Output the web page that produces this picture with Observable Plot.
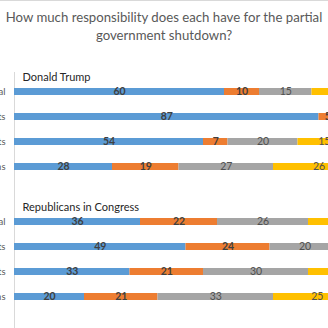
<!DOCTYPE html>
<html>
<head>
<meta charset="utf-8">
<script src="https://cdn.jsdelivr.net/npm/d3@7"></script>
<script src="https://cdn.jsdelivr.net/npm/@observablehq/plot@0.6"></script>
<style>
  html, body { margin: 0; padding: 0; width: 328px; height: 328px; overflow: hidden; background: #fff; }
  #topline { position: absolute; left: 0; top: 0; width: 328px; height: 0; border-top: 1px solid #d9d9d9; }
  #title { position: absolute; left: 0; top: 8px; width: 328px; text-align: center;
           font-family: Lato, sans-serif; font-size: 13.2px; line-height: 18px; color: #595959; }
  #chart { position: absolute; left: 0; top: 45px; }
</style>
</head>
<body>
<div id="topline"></div>
<div id="title">How much responsibility does each have for the partial<br>government shutdown?</div>
<div id="chart"></div>
<script>
const panels = ["Donald Trump", "Republicans in Congress"];
const rowLabels = ["Total", "Democrats", "Independents", "Republicans"];
const responses = ["A lot", "Some", "Not too much", "None at all"];
const colors = ["#5B9BD5", "#ED7D31", "#A5A5A5", "#FFC000"];
const boldResponses = ["A lot", "Some"];
const trumpValues = [[60, 10, 15, 14], [87, 5, 4, 3], [54, 7, 20, 15], [28, 19, 27, 26]];
const repValues = [[36, 22, 26, 15], [49, 24, 20, 6], [33, 21, 30, 14], [20, 21, 33, 25]];

const data = [];
[trumpValues, repValues].forEach((rows, pi) =>
  rows.forEach((vals, ri) =>
    vals.forEach((v, si) =>
      data.push({panel: panels[pi], group: rowLabels[ri], response: responses[si], value: v}))));

const isBold = d => boldResponses.includes(d.response);

const chart = Plot.plot({
  width: 328,
  height: 283,
  marginTop: 31,
  marginBottom: 17,
  marginLeft: 14,
  marginRight: 0,
  x: {domain: [0, 100], range: [14, 364], axis: null},
  y: {domain: rowLabels, paddingInner: 0, paddingOuter: 0, tickSize: 0, tickPadding: 9, label: null},
  fy: {domain: panels, paddingInner: 0.206, paddingOuter: 0, axis: null, label: null},
  color: {domain: responses, range: colors},
  style: {fontFamily: "Lato, sans-serif", fontSize: "9.5px", color: "#595959", background: "transparent"},
  marks: [
    Plot.ruleX([0], {stroke: "#d9d9d9", insetTop: -5, insetBottom: -27}),
    Plot.barX(data, Plot.stackX({x: "value", y: "group", fy: "panel", fill: "response", insetTop: 9, insetBottom: 9})),
    Plot.text(data, Plot.stackX({x: "value", y: "group", fy: "panel", z: "response",
      text: d => isBold(d) ? String(d.value) : "", fill: "#404040", fontSize: 10.5, fontWeight: "bold"})),
    Plot.text(data, Plot.stackX({x: "value", y: "group", fy: "panel", z: "response",
      text: d => isBold(d) ? "" : String(d.value), fill: "#505050", fontSize: 10.5})),
    Plot.text(panels, {fy: d => d, text: d => d, frameAnchor: "top-left", dx: 8,
      lineAnchor: "middle", fontSize: 11, fill: "#262626"})
  ]
});
document.getElementById("chart").append(chart);
</script>
</body>
</html>
